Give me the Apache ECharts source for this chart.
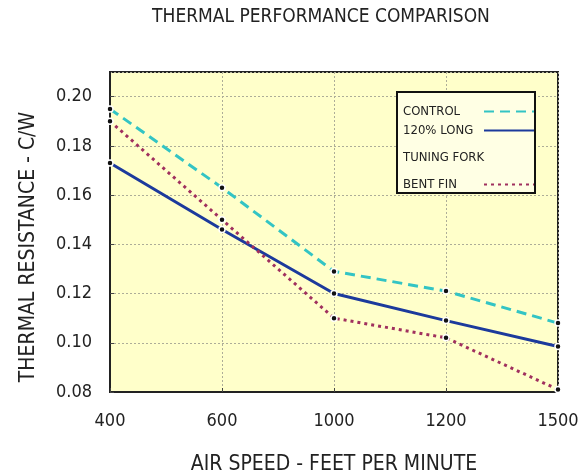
<!DOCTYPE html>
<html><head><meta charset="utf-8">
<script src="https://cdn.jsdelivr.net/npm/echarts@6/dist/echarts.min.js"></script>
<style>html,body{margin:0;padding:0;background:#fff}#c{width:585px;height:476px}</style>
</head><body><div id="c"></div>
<script>
const titleText = 'THERMAL PERFORMANCE COMPARISON';
const xName = 'AIR SPEED - FEET PER MINUTE';
const yName = 'THERMAL RESISTANCE - C/W';
const categories = ['400', '600', '1000', '1200', '1500'];
const controlValues = [0.195, 0.163, 0.129, 0.121, 0.108];
const longValues = [0.173, 0.146, 0.120, 0.109, 0.0985];
const tuningForkValues = [];
const bentFinValues = [0.190, 0.150, 0.110, 0.102, 0.081];
const seriesNames = ['CONTROL', '120% LONG', 'TUNING FORK', 'BENT FIN'];
const yMin = 0.08, yMax = 0.21, yStep = 0.02;

// font detection
const cv = document.createElement('canvas').getContext('2d');
function w(f){cv.font = f; return cv.measureText('THERMAL RESISTANCE 0.1234').width;}
const bm = w('20px monospace'), bs = w('20px serif');
function has(f){return w('20px "'+f+'", monospace') !== bm || w('20px "'+f+'", serif') !== bs;}
const cands = ['Liberation Sans Narrow','DejaVu Sans Condensed','Roboto Condensed','Open Sans Condensed','Noto Sans Condensed','Arial Narrow','DejaVu Sans'];
let FONT = 'sans-serif';
for (const c of cands) { if (has(c)) { FONT = c; break; } }
const tc = '#222';
const titleSize = 19;
cv.font = titleSize + 'px "' + FONT + '"';
const tw = cv.measureText(titleText).width;

const chart = echarts.init(document.getElementById('c'), null, {renderer: 'canvas'});
const sym = {color: '#111', borderColor: '#fff', borderWidth: 1.5};
function legendFor(name, top) {
  return {
    data: [name], orient: 'vertical', left: 398, top: top, align: 'right',
    itemWidth: 50, itemHeight: 10, selectedMode: false,
    itemStyle: {opacity: 0}, z: 6,
    formatter: '{a|{name}}',
    textStyle: {fontFamily: FONT, fontSize: 13, color: tc, rich: {a: {width: 76, align: 'left', fontFamily: FONT, fontSize: 13, color: tc}}}
  };
}
chart.setOption({
  backgroundColor: '#fff',
  animation: false,
  title: {text: titleText, left: 321 - tw / 2, top: 8, padding: 0,
    textStyle: {fontFamily: FONT, fontSize: titleSize, fontWeight: 'normal', color: tc}},
  graphic: [{type: 'rect', shape: {x: 397, y: 92, width: 138, height: 101}, z: 5,
    style: {fill: '#FFFFE4', stroke: '#111', lineWidth: 2}}],
  legend: [legendFor(seriesNames[0], 100), legendFor(seriesNames[1], 119), legendFor(seriesNames[2], 146), legendFor(seriesNames[3], 173)],
  grid: {left: 110, right: 27, top: 72, bottom: 84, outerBoundsMode: 'none', containLabel: false,
    show: true, backgroundColor: '#FFFFCA', borderColor: '#222', borderWidth: 2},
  xAxis: {
    type: 'category', data: categories, boundaryGap: false,
    name: xName, nameLocation: 'middle', nameGap: 62,
    nameTextStyle: {fontFamily: FONT, fontSize: 21, color: tc},
    axisLine: {lineStyle: {color: '#222', width: 2}},
    axisTick: {inside: true, length: 4, lineStyle: {color: '#444'}},
    axisLabel: {margin: 20, fontFamily: FONT, fontSize: 18, color: tc},
    splitLine: {show: true, lineStyle: {color: '#ADAD98', type: [2, 2], width: 1}}
  },
  yAxis: {
    type: 'value', min: yMin, max: yMax, interval: yStep,
    name: yName, nameLocation: 'middle', nameGap: 71,
    nameTextStyle: {fontFamily: FONT, fontSize: 21, color: tc, padding: [0, 30, 0, 0]},
    axisLine: {show: true, lineStyle: {color: '#222', width: 2}},
    axisTick: {show: true, inside: true, length: 4, lineStyle: {color: '#444'}},
    axisLabel: {margin: 18, fontFamily: FONT, fontSize: 18, color: tc, showMaxLabel: false,
      formatter: v => v.toFixed(2)},
    splitLine: {show: true, lineStyle: {color: '#ADAD98', type: [2, 2], width: 1}}
  },
  series: [
    {name: seriesNames[0], type: 'line', data: controlValues, symbol: 'circle', symbolSize: 6,
      lineStyle: {color: '#33C4C4', width: 3, type: [10, 6]}, itemStyle: Object.assign({}, sym), color: '#33C4C4', z: 3},
    {name: seriesNames[1], type: 'line', data: longValues, symbol: 'circle', symbolSize: 6,
      lineStyle: {color: '#1C3A9C', width: 3}, itemStyle: Object.assign({}, sym), color: '#1C3A9C', z: 3},
    {name: seriesNames[2], type: 'line', data: tuningForkValues, symbol: 'none',
      lineStyle: {color: 'rgba(0,0,0,0)', width: 0}, color: 'rgba(0,0,0,0)'},
    {name: seriesNames[3], type: 'line', data: bentFinValues, symbol: 'circle', symbolSize: 6,
      lineStyle: {color: '#A0305E', width: 3, type: [3, 4]}, itemStyle: Object.assign({}, sym), color: '#A0305E', z: 3}
  ]
});
</script></body></html>
